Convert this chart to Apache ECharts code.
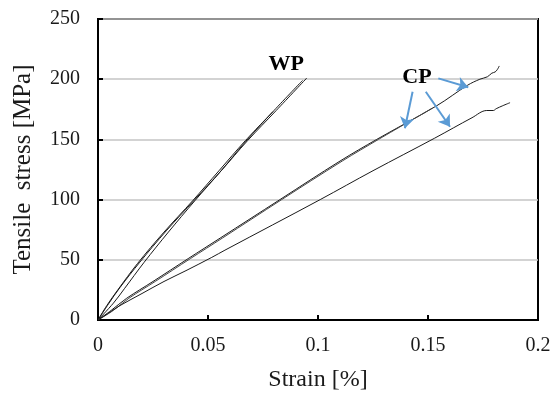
<!DOCTYPE html>
<html>
<head>
<meta charset="utf-8">
<script src="https://cdn.jsdelivr.net/npm/echarts@6/dist/echarts.min.js"></script>
<style>
  html, body { margin: 0; padding: 0; background: #fff; }
  #chart { width: 559px; height: 395px; }
</style>
</head>
<body>
<div id="chart"></div>
<script>
// [strain %, stress MPa]
const wp1 = [[0,0],[0.005,14],[0.010,27],[0.019,48],[0.031,74],[0.044,100],[0.056,124],[0.068,149],[0.081,174],[0.0949,201]]
const wp2 = [[0,0],[0.007,14],[0.012,26],[0.021,48],[0.032,73],[0.044,99],[0.056,124],[0.067,148],[0.080,174],[0.093,199]]
const wp3 = [[0,0],[0.004,12],[0.009,25],[0.018,47],[0.030,73],[0.043,99],[0.055,124],[0.067,149],[0.0795,173]]

const cp1 = [[0,0],[0.006,8],[0.013,18],[0.025,32],[0.041,51],[0.0555,68],[0.0827,100],[0.110,132],[0.1267,150],
             [0.154,178],[0.168,195],[0.1736,200],[0.177,202],[0.179,205],[0.1805,206],[0.1815,208],[0.1824,211]]
const cp2 = [[0,0],[0.007,8],[0.014,18],[0.026,32],[0.042,51],[0.0565,68],[0.0835,100],[0.111,132],[0.1275,150],[0.152,176]]
const cp3 = [[0,0],[0.005,6],[0.010,12],[0.020,22],[0.030,32],[0.040,41],[0.0517,52],[0.0577,58],[0.101,100],[0.125,124],
             [0.153,151],[0.170,168],[0.1767,174],[0.1797,174],[0.181,175.5],[0.184,178],[0.1873,180.5]]

const xTicks = [0, 0.05, 0.1, 0.15, 0.2]
const yTicks = [0, 50, 100, 150, 200, 250]

// annotation arrows: [from, to] in data coords
const cpArrows = [
  [[0.1547, 200.7], [0.1683, 193.3]],
  [[0.1430, 189.6], [0.1395, 159.2]],
  [[0.1490, 189.6], [0.1600, 160.5]],
]
const wpLabelAt = [0.0855, 212.6]
const cpLabelAt = [0.1450, 201.4]

const FONT = "'Liberation Serif', 'Times New Roman', serif"
const INK = '#1a1a1a'
const ARROW = '#5B9BD5'

const chart = echarts.init(document.getElementById('chart'), null, { renderer: 'canvas' })

const curve = (data, extra) => Object.assign({
  type: 'line',
  data,
  showSymbol: false,
  smooth: 0.35,
  lineStyle: { color: INK, width: 1 },
  silent: true,
  z: 3,
}, extra || {})

const labelPoint = (at, text) => ({
  coord: at,
  symbol: 'circle',
  symbolSize: 1,
  itemStyle: { color: 'rgba(0,0,0,0)' },
  label: { show: true, position: 'inside', formatter: text, fontFamily: FONT, fontSize: 22, fontWeight: 'bold', color: '#000' },
})

chart.setOption({
  animation: false,
  backgroundColor: '#fff',
  grid: {
    left: 98, right: 21, top: 19, bottom: 75,
    outerBoundsMode: 'none', containLabel: false,
    show: true, borderColor: '#000', borderWidth: 2, backgroundColor: 'transparent',
  },
  xAxis: {
    type: 'value',
    min: xTicks[0],
    max: xTicks[xTicks.length - 1],
    interval: 0.05,
    name: 'Strain [%]',
    nameLocation: 'middle',
    nameGap: 48,
    nameTextStyle: { fontFamily: FONT, fontSize: 24, color: INK },
    axisLine:  { show: true, lineStyle: { color: '#000', width: 2 } },
    axisTick:  { show: true, inside: true, length: 5, lineStyle: { color: '#000', width: 2 } },
    axisLabel: { fontFamily: FONT, fontSize: 20, color: INK, margin: 16 },
    splitLine: { show: false },
  },
  yAxis: {
    type: 'value',
    min: yTicks[0],
    max: yTicks[yTicks.length - 1],
    interval: 50,
    name: 'Tensile  stress [MPa]',
    nameLocation: 'middle',
    nameGap: 62,
    nameTextStyle: { fontFamily: FONT, fontSize: 25, color: INK },
    axisLine:  { show: true, lineStyle: { color: '#000', width: 2 } },
    axisTick:  { show: true, inside: true, length: 5, lineStyle: { color: '#000', width: 2 } },
    axisLabel: { fontFamily: FONT, fontSize: 20, color: INK, margin: 18 },
    splitLine: { show: true, lineStyle: { color: '#c4c4c4', width: 1.5 } },
  },
  series: [
    curve(wp1, {
      markPoint: { silent: true, data: [labelPoint(wpLabelAt, 'WP'), labelPoint(cpLabelAt, 'CP')] },
    }),
    curve(wp2),
    curve(wp3),
    curve(cp1, {
      markLine: {
        silent: true,
        symbol: ['none', 'arrow'],
        symbolSize: 11,
        label: { show: false },
        lineStyle: { color: ARROW, width: 2, type: 'solid' },
        data: cpArrows.map(([a, b]) => [{ coord: a }, { coord: b }]),
      },
    }),
    curve(cp2, { lineStyle: { color: '#444', width: 1 } }),
    curve(cp3),
  ],
})
</script>
</body>
</html>
